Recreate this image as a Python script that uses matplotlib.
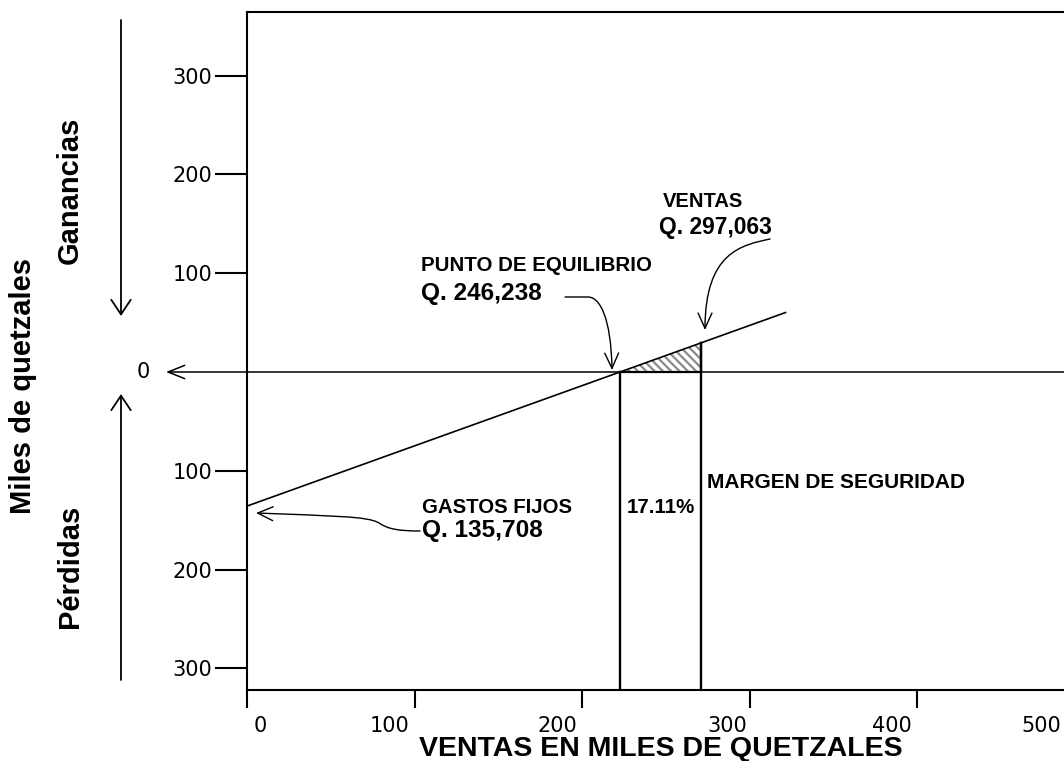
import matplotlib
matplotlib.use("Agg")
import matplotlib.pyplot as plt
import numpy as np
from matplotlib.path import Path
from matplotlib.patches import FancyArrowPatch
import matplotlib.transforms as mtransforms

# ---------------- data ----------------
x_ticks = [0, 100, 200, 300, 400, 500]
x_tick_labels = ["0", "100", "200", "300", "400", "500"]
y_ticks = [300, 200, 100, -100, -200, -300]
y_tick_labels = ["300", "200", "100", "100", "200", "300"]

fixed_costs = 135.708          # Q. 135,708 (thousands)
line_x = [0, 322]              # result line (sales -> profit)
line_y = [-135.708, 60.5]
breakeven_x = 222.7            # as drawn
sales_x = 271.0                # as drawn
margin_pct = "17.11%"

txt_ventas = "VENTAS"
txt_ventas_val = "Q. 297,063"
txt_pe = "PUNTO DE EQUILIBRIO"
txt_pe_val = "Q. 246,238"
txt_gf = "GASTOS FIJOS"
txt_gf_val = "Q. 135,708"
txt_margin = "MARGEN DE SEGURIDAD"
xlabel = "VENTAS EN MILES DE QUETZALES"
ylabel = "Miles de quetzales"
lbl_gan = "Ganancias"
lbl_per = "Pérdidas"

# ---------------- figure ----------------
W, H = 1064, 761
fig = plt.figure(figsize=(W / 100, H / 100), dpi=100)
AX_L, AX_R, AX_T, AX_B = 247, 1100, 12, 690
ax = fig.add_axes([AX_L / W, (H - AX_B) / H, (AX_R - AX_L) / W, (AX_B - AX_T) / H])

XS = 1.675   # px per unit
YS = 0.988
Y0 = 372     # pixel row of zero


def P(px, py):
    return ((px - AX_L) / XS, (Y0 - py) / YS)


ax.set_xlim(0, (AX_R - AX_L) / XS)
ax.set_ylim((Y0 - AX_B) / YS, (Y0 - AX_T) / YS)

bold = dict(family=["Liberation Sans", "DejaVu Sans"], fontweight="bold", color="black")
reg = dict(family=["DejaVu Sans"], color="black")

for s in ["left", "top", "bottom"]:
    ax.spines[s].set_linewidth(1.5)
ax.spines["right"].set_visible(False)

ax.set_yticks(y_ticks)
ax.set_yticklabels(y_tick_labels, fontsize=15, **reg)
ax.tick_params(axis="y", direction="out", length=23, width=1.5, pad=2)
ax.set_xticks(x_ticks)
ax.set_xticklabels(x_tick_labels, fontsize=15, **reg)
ax.tick_params(axis="x", direction="out", length=13, width=1.5, pad=6)
offsets = [13, -25, -25, -22, -25, -43]
for lab, dx in zip(ax.get_xticklabels(), offsets):
    lab.set_transform(lab.get_transform() + mtransforms.ScaledTranslation(dx / 100, 0, fig.dpi_scale_trans))

# result line
ax.plot(line_x, line_y, color="black", lw=1.2, solid_capstyle="butt", zorder=4)

# hatched triangle (margin of safety profit)
sales_y = float(np.interp(sales_x, line_x, line_y))
tri_x = [breakeven_x, sales_x, sales_x]
tri_y = [0, 0, sales_y]
plt.rcParams["hatch.linewidth"] = 1.6
ax.fill(tri_x, tri_y, facecolor="white", edgecolor="#8a8a8a", hatch="\\\\\\\\", lw=0, zorder=2)
ax.plot([breakeven_x, sales_x, sales_x], [0, 0, sales_y], color="black", lw=1.6, zorder=3)

# vertical lines
ymin = ax.get_ylim()[0]
ax.plot([breakeven_x, breakeven_x], [0, ymin], color="black", lw=1.7, zorder=3)
ax.plot([sales_x, sales_x], [sales_y, ymin], color="black", lw=1.7, zorder=3)

# zero line with arrow to the left
ax.annotate("", xy=P(166, Y0), xytext=(ax.get_xlim()[1], 0),
            arrowprops=dict(arrowstyle="->,head_length=12,head_width=4.8", mutation_scale=1,
                            lw=1.1, color="black", shrinkA=0, shrinkB=0),
            annotation_clip=False)
ax.text(*P(143, Y0), "0", fontsize=15, ha="center", va="center", **reg)

# left vertical arrows
ax.annotate("", xy=P(121, 316), xytext=P(121, 20),
            arrowprops=dict(arrowstyle="->,head_length=10.5,head_width=7", mutation_scale=1,
                            lw=1.3, color="black", shrinkA=0, shrinkB=0),
            annotation_clip=False)
ax.annotate("", xy=P(121, 394), xytext=P(121, 680),
            arrowprops=dict(arrowstyle="->,head_length=10.5,head_width=7", mutation_scale=1,
                            lw=1.3, color="black", shrinkA=0, shrinkB=0),
            annotation_clip=False)

ax.text(*P(70, 190), lbl_gan, rotation=90, fontsize=21, ha="center", va="center", **bold)
ax.text(*P(70, 566), lbl_per, rotation=90, fontsize=21, ha="center", va="center", **bold)
ax.text(*P(23, 386), ylabel, rotation=90, fontsize=21, ha="center", va="center", **bold)
ax.text(*P(661, 756), xlabel, fontsize=20.5, ha="center", va="baseline", **bold)

# annotation texts
ax.text(*P(663, 207), txt_ventas, fontsize=14.5, ha="left", va="baseline", **bold)
ax.text(*P(659, 234), txt_ventas_val, fontsize=16.4, ha="left", va="baseline", **bold)
ax.text(*P(421, 271), txt_pe, fontsize=14.8, ha="left", va="baseline", **bold)
ax.text(*P(421, 300), txt_pe_val, fontsize=17.6, ha="left", va="baseline", **bold)
ax.text(*P(422, 513), txt_gf, fontsize=14.7, ha="left", va="baseline", **bold)
ax.text(*P(422, 537), txt_gf_val, fontsize=17.6, ha="left", va="baseline", **bold)
ax.text(*P(627, 513), margin_pct, fontsize=14.8, ha="left", va="baseline", **bold)
ax.text(*P(707, 488), txt_margin, fontsize=15, ha="left", va="baseline", **bold)


def curved_arrow(points, codes):
    verts = [P(*p) for p in points]
    path = Path(verts, codes)
    patch = FancyArrowPatch(path=path, arrowstyle="->,head_length=11,head_width=5",
                            mutation_scale=1, lw=1.0, color="black", zorder=5)
    patch.set_clip_on(False)
    ax.add_patch(patch)


M, C, L = Path.MOVETO, Path.CURVE4, Path.LINETO
# gastos fijos arrow
curved_arrow([(420, 531), (398, 531), (388, 529), (379, 523),
              (368, 516), (330, 516), (256, 513)],
             [M, C, C, C, C, C, C])
# punto de equilibrio arrow
curved_arrow([(565, 297), (588, 297), (600, 297), (611, 318), (612, 370)],
             [M, L, C, C, C])
# ventas arrow
curved_arrow([(770, 239), (742, 245), (705, 252), (705, 330)],
             [M, C, C, C])

fig.savefig("out.png", dpi=100)
